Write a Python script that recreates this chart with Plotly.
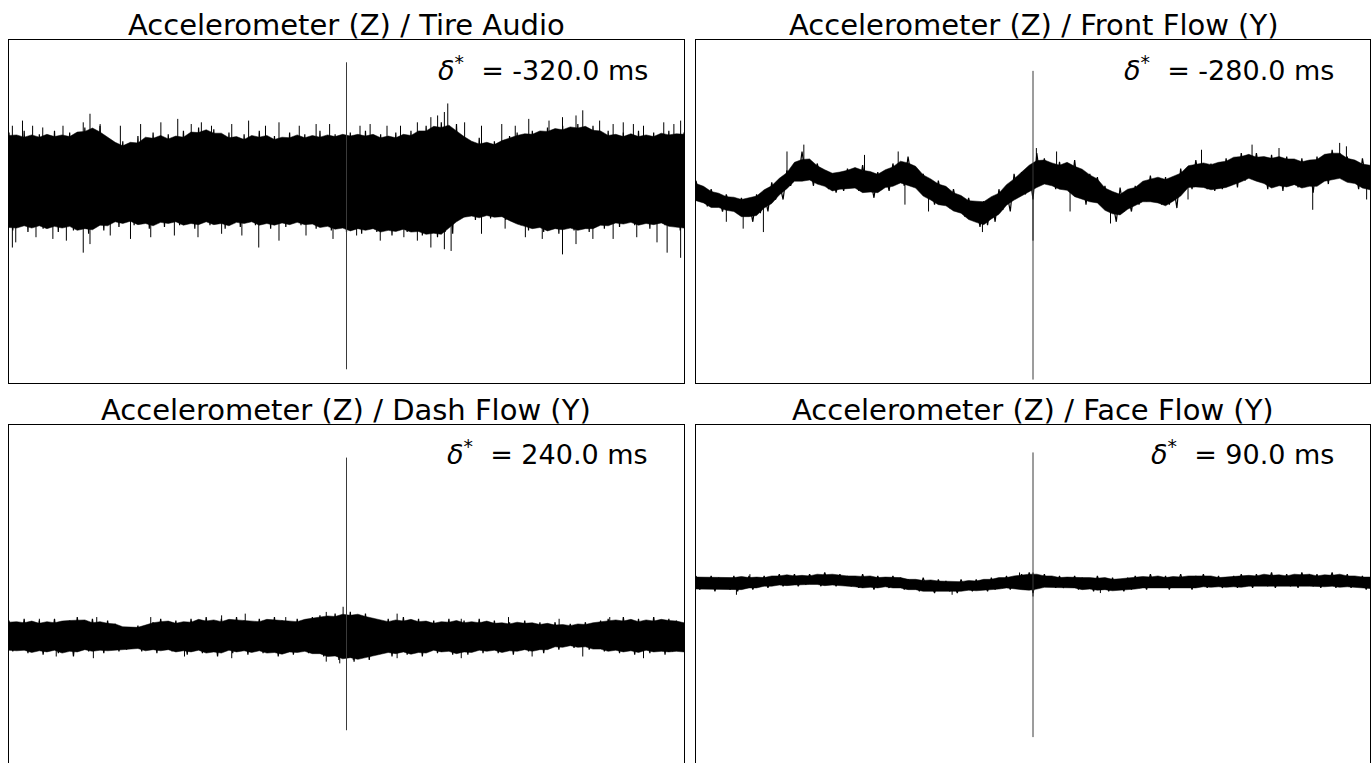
import numpy as np
import plotly.graph_objects as go

# ---------------------------------------------------------------------------
# Aligned signal pairs: each panel shows the combined signal as its upper /
# lower swing per window, the tallest individual excursions, and the marker
# at zero lag.
# ---------------------------------------------------------------------------
TITLES = [
    "Accelerometer (Z) / Tire Audio",
    "Accelerometer (Z) / Front Flow (Y)",
    "Accelerometer (Z) / Dash Flow (Y)",
    "Accelerometer (Z) / Face Flow (Y)",
]
DELTA_MS = [-320.0, -280.0, 240.0, 90.0]

# zero-lag marker extent (ymin, ymax) per panel
MARKER_SPAN = [(-0.92, 0.87), (-0.98, 0.82), (-0.78, 0.81), (-0.82, 0.84)]

# --- Tire Audio --------------------------------------------------------------
TIRE_HI = [0.46, 0.41, 0.47, 0.42, 0.45, 0.43, 0.47, 0.41, 0.46, 0.44,
           0.49, 0.47, 0.50, 0.42, 0.38, 0.41, 0.36, 0.44, 0.40, 0.46,
           0.42, 0.45, 0.40, 0.47, 0.43, 0.49, 0.46, 0.48, 0.43, 0.46,
           0.40, 0.45, 0.41, 0.47, 0.42, 0.44, 0.40, 0.46, 0.43, 0.45,
           0.41, 0.47, 0.42, 0.45, 0.44, 0.46, 0.42, 0.47, 0.43, 0.45,
           0.41, 0.46, 0.42, 0.47, 0.44, 0.50, 0.47, 0.52, 0.48, 0.51,
           0.42, 0.38, 0.43, 0.37, 0.41, 0.39, 0.44, 0.46, 0.43, 0.47,
           0.45, 0.49, 0.46, 0.50, 0.47, 0.51, 0.48, 0.50, 0.44, 0.47,
           0.42, 0.46, 0.43, 0.47, 0.41, 0.46, 0.44, 0.47, 0.43, 0.46]
TIRE_LO = [-0.11, -0.06, -0.12, -0.07, -0.10, -0.08, -0.12, -0.06, -0.11, -0.09,
           -0.13, -0.08, -0.11, -0.05, -0.09, -0.04, -0.08, -0.05, -0.10, -0.06,
           -0.09, -0.04, -0.08, -0.06, -0.10, -0.05, -0.08, -0.05, -0.10, -0.06,
           -0.09, -0.04, -0.08, -0.06, -0.10, -0.05, -0.09, -0.06, -0.08, -0.05,
           -0.10, -0.07, -0.11, -0.08, -0.12, -0.09, -0.13, -0.08, -0.12, -0.10,
           -0.14, -0.09, -0.12, -0.10, -0.14, -0.11, -0.15, -0.12, -0.13, -0.04,
           -0.01, -0.05, -0.02, -0.04, -0.01, -0.05, -0.03, -0.08, -0.11, -0.07,
           -0.12, -0.09, -0.13, -0.08, -0.11, -0.10, -0.12, -0.08, -0.10, -0.06,
           -0.09, -0.05, -0.08, -0.06, -0.10, -0.05, -0.08, -0.07, -0.11, -0.09]
TIRE_PEAK_T = [-0.99, -0.96, -0.93, -0.90, -0.84, -0.78, -0.76, -0.73, -0.67, -0.61,
               -0.55, -0.50, -0.46, -0.43, -0.40, -0.34, -0.29, -0.24, -0.20, -0.14,
               -0.09, -0.05, 0.00, 0.04, 0.07, 0.12, 0.16, 0.21, 0.25, 0.27,
               0.29, 0.30, 0.35, 0.40, 0.46, 0.50, 0.54, 0.60, 0.64, 0.68,
               0.70, 0.75, 0.79, 0.82, 0.85, 0.88, 0.94, 0.97, 0.99,
               -0.99, -0.98, -0.92, -0.87, -0.83, -0.78, -0.76, -0.70, -0.64, -0.58,
               -0.51, -0.44, -0.37, -0.31, -0.26, -0.20, -0.12, -0.04, 0.03, 0.10,
               0.17, 0.21, 0.25, 0.29, 0.31, 0.40, 0.47, 0.53, 0.58, 0.64,
               0.68, 0.73, 0.79, 0.86, 0.92, 0.95, 0.99]
TIRE_PEAK_V = [0.50, 0.53, 0.50, 0.49, 0.50, 0.52, 0.57, 0.51, 0.50, 0.51,
               0.52, 0.54, 0.51, 0.52, 0.50, 0.51, 0.53, 0.50, 0.52, 0.50,
               0.51, 0.51, 0.54, 0.50, 0.51, 0.50, 0.50, 0.52, 0.55, 0.56,
               0.58, 0.63, 0.52, 0.50, 0.51, 0.50, 0.54, 0.53, 0.55, 0.56,
               0.59, 0.53, 0.51, 0.52, 0.51, 0.50, 0.52, 0.51, 0.53,
               -0.21, -0.18, -0.15, -0.16, -0.17, -0.24, -0.19, -0.14, -0.16, -0.15,
               -0.14, -0.15, -0.13, -0.14, -0.21, -0.17, -0.14, -0.16, -0.14, -0.17,
               -0.15, -0.17, -0.21, -0.22, -0.23, -0.13, -0.10, -0.15, -0.16, -0.25,
               -0.19, -0.16, -0.16, -0.15, -0.18, -0.24, -0.27]

# --- Front Flow ------------------------------------------------------------
FRONT_HI = [0.18, 0.13, 0.13, 0.09, 0.10, 0.07, 0.08, 0.06, 0.10, 0.11,
            0.17, 0.17, 0.24, 0.27, 0.35, 0.29, 0.28, 0.23, 0.22, 0.22,
            0.25, 0.25, 0.27, 0.20, 0.23, 0.22, 0.28, 0.28, 0.32, 0.25,
            0.22, 0.17, 0.18, 0.13, 0.13, 0.07, 0.08, 0.04, 0.06, 0.07,
            0.13, 0.12, 0.22, 0.23, 0.24, 0.34, 0.31, 0.25, 0.29, 0.27,
            0.30, 0.22, 0.22, 0.20, 0.15, 0.06, 0.14, 0.10, 0.15, 0.17,
            0.21, 0.19, 0.20, 0.17, 0.25, 0.25, 0.30, 0.27, 0.28, 0.27,
            0.31, 0.30, 0.34, 0.32, 0.34, 0.29, 0.33, 0.31, 0.32, 0.29,
            0.31, 0.27, 0.32, 0.32, 0.36, 0.34, 0.32, 0.27, 0.31, 0.25]
FRONT_LO = [0.08, 0.03, 0.04, 0.00, 0.03, -0.01, -0.02, -0.06, -0.01, 0.00,
            0.07, 0.07, 0.15, 0.18, 0.20, 0.15, 0.20, 0.13, 0.11, 0.12,
            0.16, 0.12, 0.13, 0.08, 0.13, 0.12, 0.17, 0.15, 0.18, 0.13,
            0.10, 0.04, 0.06, 0.02, 0.02, -0.03, -0.02, -0.09, -0.08, -0.06,
            0.01, 0.00, 0.10, 0.10, 0.07, 0.18, 0.17, 0.13, 0.15, 0.11,
            0.11, 0.04, 0.07, 0.06, 0.02, -0.06, 0.00, 0.00, 0.04, 0.06,
            0.07, 0.04, 0.04, 0.02, 0.12, 0.13, 0.17, 0.13, 0.12, 0.13,
            0.15, 0.14, 0.18, 0.20, 0.20, 0.13, 0.16, 0.12, 0.17, 0.14,
            0.16, 0.11, 0.17, 0.16, 0.20, 0.20, 0.18, 0.13, 0.18, 0.10]
FRONT_PEAK_T = [-0.73, -0.68, -0.50, -0.40, 0.01, 0.07, 0.50, 0.65, 0.73, 0.91, 0.93,
                -0.91, -0.86, -0.80, -0.38, -0.31, -0.15, 0.00, 0.11, 0.23, 0.46,
                0.83, 0.99]
FRONT_PEAK_V = [0.35, 0.39, 0.33, 0.35, 0.37, 0.35, 0.36, 0.39, 0.37, 0.40, 0.38,
                -0.06, -0.10, -0.12, 0.04, 0.00, -0.12, -0.17, 0.00, -0.07, 0.07,
                0.01, 0.07]

# --- Dash Flow -------------------------------------------------------------
DASH_HI = [-0.14, -0.17, -0.13, -0.16, -0.14, -0.17, -0.13, -0.16, -0.14, -0.12,
           -0.16, -0.13, -0.17, -0.14, -0.16, -0.18, -0.19, -0.17, -0.18, -0.15,
           -0.13, -0.16, -0.14, -0.17, -0.13, -0.15, -0.12, -0.16, -0.13, -0.15,
           -0.12, -0.14, -0.16, -0.13, -0.15, -0.12, -0.14, -0.16, -0.13, -0.15,
           -0.12, -0.11, -0.13, -0.10, -0.12, -0.09, -0.12, -0.10, -0.13, -0.15,
           -0.13, -0.16, -0.12, -0.15, -0.13, -0.16, -0.14, -0.17, -0.13, -0.15,
           -0.14, -0.17, -0.13, -0.16, -0.14, -0.17, -0.15, -0.16, -0.14, -0.17,
           -0.15, -0.17, -0.15, -0.18, -0.16, -0.17, -0.15, -0.17, -0.14, -0.13,
           -0.16, -0.12, -0.15, -0.13, -0.16, -0.12, -0.15, -0.13, -0.14, -0.16]
DASH_LO = [-0.32, -0.30, -0.33, -0.31, -0.34, -0.30, -0.33, -0.31, -0.35, -0.30,
           -0.32, -0.31, -0.33, -0.30, -0.32, -0.31, -0.29, -0.32, -0.30, -0.33,
           -0.30, -0.32, -0.31, -0.34, -0.30, -0.33, -0.31, -0.35, -0.31, -0.33,
           -0.30, -0.34, -0.31, -0.33, -0.31, -0.35, -0.32, -0.34, -0.31, -0.33,
           -0.32, -0.35, -0.33, -0.37, -0.34, -0.38, -0.35, -0.37, -0.34, -0.32,
           -0.35, -0.31, -0.34, -0.32, -0.35, -0.31, -0.33, -0.30, -0.34, -0.32,
           -0.34, -0.31, -0.33, -0.30, -0.33, -0.31, -0.34, -0.30, -0.32, -0.31,
           -0.33, -0.29, -0.31, -0.28, -0.30, -0.28, -0.31, -0.29, -0.32, -0.31,
           -0.33, -0.30, -0.34, -0.31, -0.33, -0.30, -0.34, -0.32, -0.31, -0.33]
DASH_PEAK_T = [-0.91, -0.74, -0.58, -0.37, -0.30, -0.18, -0.06, -0.01, 0.00, 0.15,
               0.34, 0.48, 0.63, 0.78, 0.91,
               -0.86, -0.75, -0.48, -0.34, -0.06, -0.02, 0.02, 0.15, 0.34, 0.55,
               0.70, 0.88]
DASH_PEAK_V = [-0.13, -0.12, -0.12, -0.11, -0.10, -0.12, -0.09, -0.06, -0.08, -0.10,
               -0.13, -0.12, -0.13, -0.12, -0.12,
               -0.35, -0.36, -0.35, -0.36, -0.38, -0.39, -0.37, -0.36, -0.36, -0.35,
               -0.35, -0.36]

# --- Face Flow -------------------------------------------------------------
FACE_HI = [0.12, 0.10, 0.12, 0.11, 0.10, 0.12, 0.11, 0.12, 0.10, 0.12,
           0.11, 0.13, 0.12, 0.13, 0.11, 0.13, 0.12, 0.14, 0.12, 0.13,
           0.12, 0.11, 0.13, 0.11, 0.12, 0.10, 0.12, 0.11, 0.10, 0.09,
           0.11, 0.08, 0.10, 0.09, 0.08, 0.10, 0.08, 0.10, 0.09, 0.11,
           0.10, 0.12, 0.11, 0.13, 0.14, 0.12, 0.13, 0.11, 0.12, 0.10,
           0.12, 0.11, 0.10, 0.12, 0.10, 0.11, 0.09, 0.11, 0.12, 0.10,
           0.13, 0.11, 0.12, 0.10, 0.13, 0.11, 0.12, 0.13, 0.11, 0.12,
           0.10, 0.12, 0.13, 0.11, 0.13, 0.12, 0.14, 0.11, 0.13, 0.12,
           0.14, 0.12, 0.13, 0.11, 0.14, 0.12, 0.13, 0.11, 0.12, 0.11]
FACE_LO = [0.04, 0.05, 0.03, 0.05, 0.04, 0.03, 0.05, 0.04, 0.06, 0.05,
           0.07, 0.06, 0.07, 0.06, 0.07, 0.08, 0.06, 0.07, 0.06, 0.07,
           0.06, 0.05, 0.06, 0.04, 0.06, 0.05, 0.06, 0.04, 0.05, 0.03,
           0.04, 0.02, 0.04, 0.03, 0.02, 0.04, 0.03, 0.04, 0.03, 0.04,
           0.05, 0.04, 0.06, 0.04, 0.02, 0.05, 0.06, 0.05, 0.05, 0.06,
           0.04, 0.05, 0.03, 0.05, 0.03, 0.04, 0.03, 0.04, 0.05, 0.04,
           0.06, 0.05, 0.04, 0.06, 0.05, 0.04, 0.06, 0.05, 0.06, 0.05,
           0.06, 0.05, 0.06, 0.05, 0.07, 0.06, 0.05, 0.07, 0.06, 0.05,
           0.07, 0.06, 0.05, 0.07, 0.05, 0.06, 0.05, 0.06, 0.04, 0.05]
FACE_PEAK_T = [-0.84, -0.04, 0.00, 0.82, -0.88, -0.24, 0.00, 0.20]
FACE_PEAK_V = [0.13, 0.14, 0.14, 0.13, 0.01, 0.01, 0.00, 0.02]

PANELS = [
    (TIRE_HI, TIRE_LO, TIRE_PEAK_T, TIRE_PEAK_V),
    (FRONT_HI, FRONT_LO, FRONT_PEAK_T, FRONT_PEAK_V),
    (DASH_HI, DASH_LO, DASH_PEAK_T, DASH_PEAK_V),
    (FACE_HI, FACE_LO, FACE_PEAK_T, FACE_PEAK_V),
]

# ---------------------------------------------------------------------------
# Layout geometry (paper fractions)
# ---------------------------------------------------------------------------
W, H = 1371, 763
X_DOMAINS = [[0.00656, 0.49891], [0.50766, 0.99927]]
Y_DOMAINS = [[0.49803, 0.94758], [0.0, 0.44299]]
Y_RANGES = [[-1.0, 1.0], [-0.971, 1.0]]

INK = "black"
FONT = "DejaVu Sans"

fig = go.Figure()


def running_mean3(a):
    """Mean of each value and its two neighbours (edges repeat)."""
    p = np.r_[a[:1], a, a[-1:]]
    return (p[:-2] + p[1:-1] + p[2:]) / 3.0


for k, (hi, lo, pt, pv) in enumerate(PANELS):
    row, col = divmod(k, 2)
    xa = "x" if k == 0 else f"x{k + 1}"
    ya = "y" if k == 0 else f"y{k + 1}"
    hi = np.asarray(hi)
    lo = np.asarray(lo)
    t = np.linspace(-1.0, 1.0, len(hi))
    dt = t[1] - t[0]

    # dense body of the signal
    core_top = running_mean3(hi)
    core_bot = running_mean3(lo)
    fig.add_trace(go.Scatter(
        x=np.concatenate([t, t[::-1]]),
        y=np.concatenate([core_top, core_bot[::-1]]),
        mode="lines", fill="toself", fillcolor=INK,
        line=dict(color=INK, width=0.5),
        xaxis=xa, yaxis=ya, hoverinfo="skip", showlegend=False,
    ))

    # the swing itself: alternate between upper and lower value in each window
    zx = np.empty(2 * len(t))
    zy = np.empty(2 * len(t))
    zx[0::2] = t
    zx[1::2] = t + dt / 2
    zy[0::2] = hi
    zy[1::2] = lo
    keep = zx <= 1.0
    fig.add_trace(go.Scatter(
        x=zx[keep], y=zy[keep], mode="lines",
        line=dict(color=INK, width=1.2),
        xaxis=xa, yaxis=ya, hoverinfo="skip", showlegend=False,
    ))

    # individual excursions, drawn from the band centre out to the peak
    mid = (hi + lo) / 2.0
    sx, sy = [], []
    for tx, tv in zip(pt, pv):
        base = float(np.interp(tx, t, mid))
        sx += [tx, tx, None]
        sy += [base, tv, None]
    fig.add_trace(go.Scatter(
        x=sx, y=sy, mode="lines",
        line=dict(color=INK, width=1),
        xaxis=xa, yaxis=ya, hoverinfo="skip", showlegend=False,
    ))

    # zero-lag marker
    y0, y1 = MARKER_SPAN[k]
    fig.add_trace(go.Scatter(
        x=[0.0, 0.0], y=[y0, y1], mode="lines",
        line=dict(color="#3a3a3a", width=1),
        xaxis=xa, yaxis=ya, hoverinfo="skip", showlegend=False,
    ))

    common = dict(showgrid=False, zeroline=False, showticklabels=False,
                  ticks="", showline=True, linecolor=INK, linewidth=1,
                  fixedrange=True)
    xkey = "xaxis" if k == 0 else f"xaxis{k + 1}"
    ykey = "yaxis" if k == 0 else f"yaxis{k + 1}"
    if row == 0:
        xcfg = dict(common, domain=X_DOMAINS[col], range=[-1, 1],
                    anchor=ya, mirror=True)
    else:
        xcfg = dict(common, domain=X_DOMAINS[col], range=[-1, 1],
                    anchor=ya, side="top", mirror=False)
    ycfg = dict(common, domain=Y_DOMAINS[row], range=Y_RANGES[row],
                anchor=xa, mirror=True)
    fig.update_layout(**{xkey: xcfg, ykey: ycfg})

    # panel title
    fig.add_annotation(
        text=TITLES[k], xref="paper", yref="paper",
        x=(X_DOMAINS[col][0] + X_DOMAINS[col][1]) / 2, y=Y_DOMAINS[row][1],
        xanchor="center", yanchor="bottom", yshift=-4, showarrow=False,
        font=dict(family=FONT, size=29, color=INK),
    )

    # estimated offset
    fig.add_annotation(
        text=f"<i>δ</i><sup>*</sup>\u00a0 = {DELTA_MS[k]:.1f} ms",
        xref=f"{xa} domain", yref=f"{ya} domain",
        x=0.95, y=0.975, xanchor="right", yanchor="top", showarrow=False,
        font=dict(family=FONT, size=27, color=INK),
    )

fig.update_layout(
    width=W, height=H, autosize=False,
    margin=dict(l=0, r=0, t=0, b=0),
    paper_bgcolor="white", plot_bgcolor="white",
    showlegend=False,
)

fig.write_html("out.html")
